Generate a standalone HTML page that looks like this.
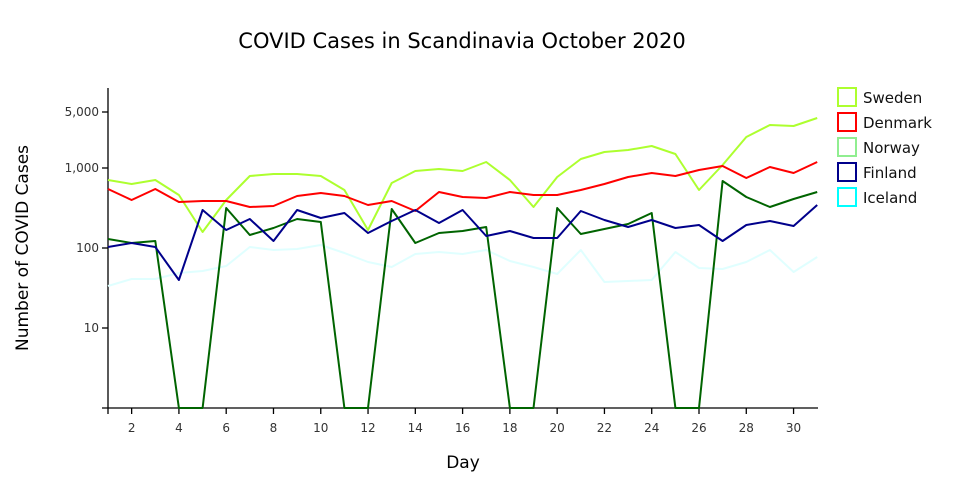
<!DOCTYPE html>
<html><head><meta charset="utf-8"><style>
body{margin:0;background:#fff;}
svg{display:block;font-family:"DejaVu Sans","Liberation Sans",sans-serif;}
</style></head><body>
<svg id="s" width="960" height="500" xmlns="http://www.w3.org/2000/svg">
<rect width="960" height="500" fill="#fff"/>
<text x="462" y="48" font-size="21" text-anchor="middle" fill="#000">COVID Cases in Scandinavia October 2020</text>
<text x="463" y="468" font-size="17" text-anchor="middle" fill="#000">Day</text>
<text transform="translate(28,248) rotate(-90)" font-size="17" text-anchor="middle" fill="#000">Number of COVID Cases</text>
<g stroke="#000" stroke-width="1.3" fill="none">
<line x1="108" y1="88" x2="108" y2="414"/>
<line x1="102" y1="408" x2="818" y2="408"/>
<line x1="102" y1="112" x2="108" y2="112"/>
<line x1="102" y1="168" x2="108" y2="168"/>
<line x1="102" y1="248" x2="108" y2="248"/>
<line x1="102" y1="328" x2="108" y2="328"/>
</g>
<g font-size="12" fill="#333" text-anchor="end">
<text x="99" y="116">5,000</text>
<text x="99" y="172">1,000</text>
<text x="99" y="252">100</text>
<text x="99" y="332">10</text>
</g>
<g id="xt" font-size="12" fill="#333" text-anchor="middle"></g>
<g id="lines" fill="none" stroke-width="2" stroke-linejoin="round"></g>
<g stroke-width="2" fill="none">
<rect x="838" y="88" width="18" height="18" stroke="#adff2f"/>
<rect x="838" y="113" width="18" height="18" stroke="#ff0000"/>
<rect x="838" y="138" width="18" height="18" stroke="#90ee90"/>
<rect x="838" y="163" width="18" height="18" stroke="#00008b"/>
<rect x="838" y="188" width="18" height="18" stroke="#00ffff"/>
</g>
<g font-size="15" fill="#111">
<text x="863" y="103">Sweden</text>
<text x="863" y="128">Denmark</text>
<text x="863" y="153">Norway</text>
<text x="863" y="178">Finland</text>
<text x="863" y="203">Iceland</text>
</g>
</svg>
<script>
var X=function(d){return 108+(d-1)*23.64;};
var ns="http://www.w3.org/2000/svg";
var xt=document.getElementById('xt');
for(var d=2;d<=30;d+=2){
 var l=document.createElementNS(ns,'line');l.setAttribute('x1',X(d));l.setAttribute('x2',X(d));l.setAttribute('y1',408);l.setAttribute('y2',414);l.setAttribute('stroke','#000');l.setAttribute('stroke-width','1.3');xt.appendChild(l);
 var t=document.createElementNS(ns,'text');t.setAttribute('x',X(d));t.setAttribute('y',432);t.textContent=d;xt.appendChild(t);
}
var S=[
["#e0ffff",[286,279,279,273,271,266,247,250,249,245,253,262,267,254,252,254,250,261,267,274,250,282,281,280,252,268,269,262,250,272,257]],
["#adff2f",[180,184,180,195,232,200,176,174,174,176,190,230,183,171,169,171,162,180,207,177,159,152,150,146,154,190,165,137,125,126,118]],
["#ff0000",[189,200,189,202,201,201,207,206,196,193,196,205,201,211,192,197,198,192,195,195,190,184,177,173,176,170,166,178,167,173,162]],
["#006400",[239,243,241,408,408,208,235,228,219,222,408,408,209,243,233,231,227,408,408,208,234,229,224,213,408,408,181,197,207,199,192]],
["#00008b",[247,243,247,280,210,230,219,241,210,218,213,233,221,210,223,210,236,231,238,238,211,220,227,220,228,225,241,225,221,226,205]]
];
var g=document.getElementById('lines');
S.forEach(function(s){var p=s[1].map(function(y,i){return X(i+1).toFixed(1)+','+y;}).join(' ');
var e=document.createElementNS(ns,'polyline');e.setAttribute('points',p);e.setAttribute('stroke',s[0]);g.appendChild(e);});
</script>
</body></html>
